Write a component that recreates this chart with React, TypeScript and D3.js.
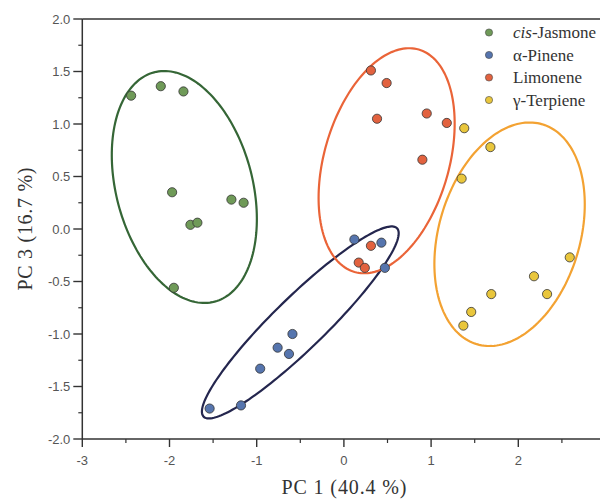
import React from "react";
import * as d3 from "d3";

// PCA scores (PC 1, PC 3)
const jasmone: [number, number][] = [
  [-2.44, 1.27], [-2.1, 1.36], [-1.84, 1.31], [-1.97, 0.35], [-1.29, 0.28],
  [-1.15, 0.25], [-1.76, 0.04], [-1.68, 0.06], [-1.95, -0.56],
];
const pinene: [number, number][] = [
  [-1.54, -1.71], [-1.18, -1.68], [-0.96, -1.33], [-0.76, -1.13], [-0.63, -1.19],
  [-0.59, -1.0], [0.12, -0.1], [0.43, -0.13], [0.47, -0.37],
];
const limonene: [number, number][] = [
  [0.31, 1.51], [0.49, 1.39], [0.38, 1.05], [0.95, 1.1], [1.18, 1.01],
  [0.9, 0.66], [0.31, -0.16], [0.17, -0.32], [0.24, -0.37],
];
const terpinene: [number, number][] = [
  [1.38, 0.96], [1.68, 0.78], [1.35, 0.48], [2.59, -0.27], [2.18, -0.45],
  [2.33, -0.62], [1.69, -0.62], [1.46, -0.79], [1.37, -0.92],
];

// confidence ellipses: centre, semi-axis vectors (data units)
const ellipseCenters: [number, number][] = [[-1.83, 0.4], [-0.5, -0.89], [0.49, 0.65], [1.9, -0.05]];
const ellipseMajor: [number, number][] = [[0.347, -1.092], [1.109, 0.897], [0.368, 1.059], [0.376, 1.047]];
const ellipseMinor: [number, number][] = [[0.756, 0.166], [0.208, -0.177], [0.688, -0.165], [0.776, -0.192]];

const seriesNames = ["cis-Jasmone", "α-Pinene", "Limonene", "γ-Terpiene"];
const seriesData = [jasmone, pinene, limonene, terpinene];

const fills = ["#6f9a58", "#5675ae", "#e2623f", "#e9c63c"];
const ringColors = ["#356636", "#24264e", "#ea6438", "#f3a232"];

const xTicks = [-3, -2, -1, 0, 1, 2, 3];
const yTicks = [-2, -1.5, -1, -0.5, 0, 0.5, 1, 1.5, 2];

const width = 600;
const height = 499;

export default function App() {
  const x = d3.scaleLinear().domain([-3, 3]).range([82.3, 605.5]);
  const y = d3.scaleLinear().domain([-2, 2]).range([439, 19]);

  const xMinor = d3.range(-2.5, 3, 1);
  const yMinor = d3.range(-1.75, 2, 0.5);

  const line = d3.line<[number, number]>()
    .x(d => x(d[0]))
    .y(d => y(d[1]))
    .curve(d3.curveLinearClosed);

  const ellipsePath = (i: number) => {
    const c = ellipseCenters[i];
    const u = ellipseMajor[i];
    const v = ellipseMinor[i];
    const pts: [number, number][] = d3.range(0, 2 * Math.PI, Math.PI / 90).map(t => [
      c[0] + Math.cos(t) * u[0] + Math.sin(t) * v[0],
      c[1] + Math.cos(t) * u[1] + Math.sin(t) * v[1],
    ]);
    return line(pts) || "";
  };

  const x0 = x(-3);
  const yBottom = y(-2);
  const yTop = y(2);

  return (
    <svg width={width} height={height}
      style={{ position: "absolute", left: 0, top: 0, background: "#fff" }}>
      <rect width={width} height={height} fill="#fff" />

      {/* ellipses */}
      {seriesData.map((_, i) => (
        <path key={"e" + i} d={ellipsePath(i)} fill="none"
          stroke={ringColors[i]} strokeWidth={2.2} />
      ))}

      {/* points */}
      {seriesData.map((pts, i) => (
        <g key={"s" + i}>
          {pts.map((p, j) => (
            <circle key={j} cx={x(p[0])} cy={y(p[1])} r={4.6}
              fill={fills[i]} stroke="#333" strokeWidth={0.8} />
          ))}
        </g>
      ))}

      {/* axes frame */}
      <line x1={x0} x2={width} y1={yBottom} y2={yBottom} stroke="#333" strokeWidth={1.5} />
      <line x1={x0} x2={width} y1={yTop} y2={yTop} stroke="#333" strokeWidth={1.5} />
      <line x1={x0} x2={x0} y1={yTop} y2={yBottom} stroke="#333" strokeWidth={1.5} />

      {/* x ticks (the figure is cropped just before x = 3) */}
      {xTicks.filter(t => x(t) < width).map(t => (
        <g key={"xt" + t}>
          <line x1={x(t)} x2={x(t)} y1={yBottom} y2={yBottom + 8} stroke="#333" strokeWidth={1.4} />
          <text x={x(t)} y={yBottom + 26} textAnchor="middle" fontSize={13}
            fontFamily="Liberation Sans, Arial, sans-serif" fill="#555">{t}</text>
        </g>
      ))}
      {xMinor.map(t => (
        <line key={"xm" + t} x1={x(t)} x2={x(t)} y1={yBottom} y2={yBottom + 4} stroke="#333" strokeWidth={1.2} />
      ))}

      {/* y ticks */}
      {yTicks.map(t => (
        <g key={"yt" + t}>
          <line x1={x0 - 9} x2={x0} y1={y(t)} y2={y(t)} stroke="#333" strokeWidth={1.4} />
          <text x={x0 - 12} y={y(t)} dy="0.35em" textAnchor="end" fontSize={13}
            fontFamily="Liberation Sans, Arial, sans-serif" fill="#555">{t.toFixed(1)}</text>
        </g>
      ))}
      {yMinor.map(t => (
        <line key={"ym" + t} x1={x0 - 4} x2={x0} y1={y(t)} y2={y(t)} stroke="#333" strokeWidth={1.2} />
      ))}

      {/* axis titles */}
      <text x={344} y={494} textAnchor="middle" fontSize={20}
        fontFamily="Liberation Serif, Times New Roman, serif" fill="#333"
        textLength={125} lengthAdjust="spacing">PC 1 (40.4 %)</text>
      <text transform={`translate(32,${y(0)}) rotate(-90)`} textAnchor="middle" fontSize={20}
        fontFamily="Liberation Serif, Times New Roman, serif" fill="#333"
        textLength={123} lengthAdjust="spacing">PC 3 (16.7 %)</text>

      {/* legend */}
      {seriesNames.map((name, i) => (
        <g key={"l" + i} transform={`translate(489,${32.5 + i * 22.5})`}>
          <circle r={3.6} fill={fills[i]} stroke="#444" strokeWidth={0.6} />
          <text x={24} dy="0.35em" fontSize={17}
            fontFamily="Liberation Serif, Times New Roman, serif" fill="#333">
            {i === 0 ? (<><tspan fontStyle="italic">cis</tspan>-Jasmone</>) : name}
          </text>
        </g>
      ))}
    </svg>
  );
}
